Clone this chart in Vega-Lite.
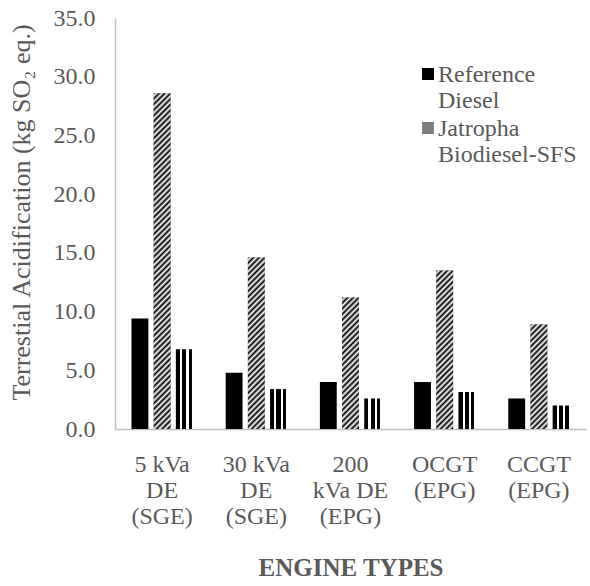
{
"$schema": "https://vega.github.io/schema/vega-lite/v6.json",
"width": 471,
"height": 411,
"autosize": {"type": "none"},
"padding": {"left": 115, "top": 18, "right": 4, "bottom": 157},
"background": "white",
"config": {"view": {"stroke": null}, "font": "Liberation Serif"},
"data": {"values": [
{"engine": "5 kVa DE (SGE)", "series": "Reference Diesel", "value": 9.4},
{"engine": "5 kVa DE (SGE)", "series": "Jatropha Biodiesel-SFS", "value": 28.6},
{"engine": "5 kVa DE (SGE)", "series": "Jatropha Biodiesel-MFS", "value": 6.8},
{"engine": "30 kVa DE (SGE)", "series": "Reference Diesel", "value": 4.8},
{"engine": "30 kVa DE (SGE)", "series": "Jatropha Biodiesel-SFS", "value": 14.6},
{"engine": "30 kVa DE (SGE)", "series": "Jatropha Biodiesel-MFS", "value": 3.4},
{"engine": "200 kVa DE (EPG)", "series": "Reference Diesel", "value": 4.0},
{"engine": "200 kVa DE (EPG)", "series": "Jatropha Biodiesel-SFS", "value": 11.2},
{"engine": "200 kVa DE (EPG)", "series": "Jatropha Biodiesel-MFS", "value": 2.6},
{"engine": "OCGT (EPG)", "series": "Reference Diesel", "value": 4.0},
{"engine": "OCGT (EPG)", "series": "Jatropha Biodiesel-SFS", "value": 13.5},
{"engine": "OCGT (EPG)", "series": "Jatropha Biodiesel-MFS", "value": 3.15},
{"engine": "CCGT (EPG)", "series": "Reference Diesel", "value": 2.6},
{"engine": "CCGT (EPG)", "series": "Jatropha Biodiesel-SFS", "value": 8.9},
{"engine": "CCGT (EPG)", "series": "Jatropha Biodiesel-MFS", "value": 2.0}
]},
"encoding": {
"x": {"field": "engine", "type": "nominal",
 "scale": {"domain": ["5 kVa DE (SGE)", "30 kVa DE (SGE)", "200 kVa DE (EPG)", "OCGT (EPG)", "CCGT (EPG)"], "paddingInner": 0.35, "paddingOuter": 0.175},
 "axis": {"title": "ENGINE TYPES", "titleFontSize": 25, "titleFontWeight": "bold", "titleColor": "#595959", "titleY": 146, "titleBaseline": "alphabetic",
  "labelAngle": 0, "labelFontSize": 24, "labelColor": "#595959", "labelBaseline": "top", "labelPadding": 23, "labelLineHeight": 26, "labelAlign": "center", "labelOverlap": false, "labelLimit": 0,
  "ticks": false, "domainColor": "#bfbfbf", "domainWidth": 1.5,
  "labelExpr": "datum.value == '5 kVa DE (SGE)' ? ['5 kVa','DE','(SGE)'] : datum.value == '30 kVa DE (SGE)' ? ['30 kVa','DE','(SGE)'] : datum.value == '200 kVa DE (EPG)' ? ['200','kVa DE','(EPG)'] : datum.value == 'OCGT (EPG)' ? ['OCGT','(EPG)'] : ['CCGT','(EPG)']"}},
"xOffset": {"field": "series", "type": "nominal", "scale": {"domain": ["Reference Diesel", "Jatropha Biodiesel-SFS", "Jatropha Biodiesel-MFS"], "paddingInner": 0.24, "paddingOuter": 0}},
"y": {"field": "value", "type": "quantitative", "scale": {"domain": [0, 35], "nice": false},
 "axis": {"values": [0, 5, 10, 15, 20, 25, 30, 35], "format": ".1f", "grid": false, "ticks": false, "labelFontSize": 24, "labelColor": "#595959", "labelPadding": 20,
  "domainColor": "#bfbfbf", "domainWidth": 1.5,
  "title": "Terrestial Acidification (kg SO₂ eq.)", "titleFontSize": 26, "titleFontWeight": "normal", "titleColor": "#595959", "titleAngle": -90, "titleX": -94, "titleY": 194, "titleAlign": "center", "titleBaseline": "middle"}}
},
"layer": [
{"mark": {"type": "bar"},
 "encoding": {"fill": {"field": "series", "type": "nominal",
  "scale": {"domain": ["Reference Diesel", "Jatropha Biodiesel-SFS", "Jatropha Biodiesel-MFS"], "range": ["#000000", "#808080", "#ffffff"]},
  "legend": {"orient": "none", "legendX": 301, "legendY": 44, "title": null, "values": ["Reference Diesel", "Jatropha Biodiesel-SFS"],
   "symbolType": "square", "symbolSize": 144, "symbolStrokeWidth": 0, "labelFontSize": 24, "labelColor": "#595959", "labelFont": "Liberation Serif",
   "labelExpr": "split(datum.label, ' ')", "labelBaseline": "alphabetic", "labelOffset": -2, "labelLimit": 300, "rowPadding": 3, "padding": 0,
   "encode": {
    "labels": {"update": {"lineHeight": {"value": 26}, "dy": {"value": 8}}},
    "symbols": {"update": {"fill": {"condition": {"test": "datum.value === 'Jatropha Biodiesel-SFS'", "value": {"gradient": "linear", "x1": 0, "y1": 0, "x2": 1, "y2": 1, "stops": [{"offset": 0, "color": "#000"}, {"offset": 0.117, "color": "#fff"}, {"offset": 0.233, "color": "#000"}, {"offset": 0.35, "color": "#fff"}, {"offset": 0.467, "color": "#000"}, {"offset": 0.583, "color": "#fff"}, {"offset": 0.7, "color": "#000"}, {"offset": 0.817, "color": "#fff"}, {"offset": 0.933, "color": "#000"}]}}, "value": "#000000"}}}
   }}}}},
{"transform": [{"filter": "datum.series === 'Jatropha Biodiesel-MFS'"}],
 "mark": {"type": "bar", "fill": {"gradient": "linear", "x1": 0, "y1": 0, "x2": 1, "y2": 0, "stops": [{"offset": 0, "color": "#000"}, {"offset": 0.24, "color": "#000"}, {"offset": 0.24, "color": "#fff"}, {"offset": 0.38, "color": "#fff"}, {"offset": 0.38, "color": "#000"}, {"offset": 0.62, "color": "#000"}, {"offset": 0.62, "color": "#fff"}, {"offset": 0.76, "color": "#fff"}, {"offset": 0.76, "color": "#000"}, {"offset": 0.94, "color": "#000"}, {"offset": 0.94, "color": "#fff"}, {"offset": 1, "color": "#fff"}]}}},
{"transform": [{"filter": "datum.series === 'Jatropha Biodiesel-SFS' && datum.engine === '5 kVa DE (SGE)'"}],
 "mark": {"type": "bar", "fill": {"gradient": "linear", "x1": 0, "y1": 0, "x2": 0.0527, "y2": 1.0477, "stops": [
{"offset":0,"color":"#000"},{"offset":0.008,"color":"#fff"},{"offset":0.016,"color":"#000"},{"offset":0.024,"color":"#fff"},{"offset":0.032,"color":"#000"},{"offset":0.04,"color":"#fff"},{"offset":0.048,"color":"#000"},{"offset":0.056,"color":"#fff"},{"offset":0.064,"color":"#000"},{"offset":0.072,"color":"#fff"},{"offset":0.08,"color":"#000"},{"offset":0.088,"color":"#fff"},{"offset":0.096,"color":"#000"},{"offset":0.104,"color":"#fff"},{"offset":0.112,"color":"#000"},{"offset":0.12,"color":"#fff"},{"offset":0.128,"color":"#000"},{"offset":0.136,"color":"#fff"},{"offset":0.144,"color":"#000"},{"offset":0.152,"color":"#fff"},{"offset":0.16,"color":"#000"},{"offset":0.168,"color":"#fff"},{"offset":0.176,"color":"#000"},{"offset":0.184,"color":"#fff"},{"offset":0.192,"color":"#000"},{"offset":0.2,"color":"#fff"},{"offset":0.208,"color":"#000"},{"offset":0.216,"color":"#fff"},{"offset":0.224,"color":"#000"},{"offset":0.232,"color":"#fff"},{"offset":0.24,"color":"#000"},{"offset":0.248,"color":"#fff"},{"offset":0.256,"color":"#000"},{"offset":0.264,"color":"#fff"},{"offset":0.272,"color":"#000"},{"offset":0.28,"color":"#fff"},{"offset":0.288,"color":"#000"},{"offset":0.296,"color":"#fff"},{"offset":0.304,"color":"#000"},{"offset":0.312,"color":"#fff"},{"offset":0.32,"color":"#000"},{"offset":0.328,"color":"#fff"},{"offset":0.336,"color":"#000"},{"offset":0.344,"color":"#fff"},{"offset":0.352,"color":"#000"},{"offset":0.36,"color":"#fff"},{"offset":0.368,"color":"#000"},{"offset":0.376,"color":"#fff"},{"offset":0.384,"color":"#000"},{"offset":0.392,"color":"#fff"},{"offset":0.4,"color":"#000"},{"offset":0.408,"color":"#fff"},{"offset":0.416,"color":"#000"},{"offset":0.424,"color":"#fff"},{"offset":0.432,"color":"#000"},{"offset":0.44,"color":"#fff"},{"offset":0.448,"color":"#000"},{"offset":0.456,"color":"#fff"},{"offset":0.464,"color":"#000"},{"offset":0.472,"color":"#fff"},{"offset":0.48,"color":"#000"},{"offset":0.488,"color":"#fff"},{"offset":0.496,"color":"#000"},{"offset":0.504,"color":"#fff"},{"offset":0.512,"color":"#000"},{"offset":0.52,"color":"#fff"},{"offset":0.528,"color":"#000"},{"offset":0.536,"color":"#fff"},{"offset":0.544,"color":"#000"},{"offset":0.552,"color":"#fff"},{"offset":0.56,"color":"#000"},{"offset":0.568,"color":"#fff"},{"offset":0.576,"color":"#000"},{"offset":0.584,"color":"#fff"},{"offset":0.592,"color":"#000"},{"offset":0.6,"color":"#fff"},{"offset":0.608,"color":"#000"},{"offset":0.616,"color":"#fff"},{"offset":0.624,"color":"#000"},{"offset":0.632,"color":"#fff"},{"offset":0.64,"color":"#000"},{"offset":0.648,"color":"#fff"},{"offset":0.656,"color":"#000"},{"offset":0.664,"color":"#fff"},{"offset":0.672,"color":"#000"},{"offset":0.68,"color":"#fff"},{"offset":0.688,"color":"#000"},{"offset":0.696,"color":"#fff"},{"offset":0.704,"color":"#000"},{"offset":0.712,"color":"#fff"},{"offset":0.72,"color":"#000"},{"offset":0.728,"color":"#fff"},{"offset":0.736,"color":"#000"},{"offset":0.744,"color":"#fff"},{"offset":0.752,"color":"#000"},{"offset":0.76,"color":"#fff"},{"offset":0.768,"color":"#000"},{"offset":0.776,"color":"#fff"},{"offset":0.784,"color":"#000"},{"offset":0.792,"color":"#fff"},{"offset":0.8,"color":"#000"},{"offset":0.808,"color":"#fff"},{"offset":0.816,"color":"#000"},{"offset":0.824,"color":"#fff"},{"offset":0.832,"color":"#000"},{"offset":0.84,"color":"#fff"},{"offset":0.848,"color":"#000"},{"offset":0.856,"color":"#fff"},{"offset":0.864,"color":"#000"},{"offset":0.872,"color":"#fff"},{"offset":0.88,"color":"#000"},{"offset":0.888,"color":"#fff"},{"offset":0.896,"color":"#000"},{"offset":0.904,"color":"#fff"},{"offset":0.912,"color":"#000"},{"offset":0.92,"color":"#fff"},{"offset":0.928,"color":"#000"},{"offset":0.936,"color":"#fff"},{"offset":0.944,"color":"#000"},{"offset":0.952,"color":"#fff"},{"offset":0.96,"color":"#000"},{"offset":0.968,"color":"#fff"},{"offset":0.976,"color":"#000"},{"offset":0.984,"color":"#fff"},{"offset":0.992,"color":"#000"},{"offset":1,"color":"#fff"}]}}},
{"transform": [{"filter": "datum.series === 'Jatropha Biodiesel-SFS' && datum.engine === '30 kVa DE (SGE)'"}],
 "mark": {"type": "bar", "fill": {"gradient": "linear", "x1": 0, "y1": 0, "x2": 0.1073, "y2": 1.088, "stops": [
{"offset":0,"color":"#000"},{"offset":0.015,"color":"#fff"},{"offset":0.03,"color":"#000"},{"offset":0.045,"color":"#fff"},{"offset":0.06,"color":"#000"},{"offset":0.075,"color":"#fff"},{"offset":0.09,"color":"#000"},{"offset":0.105,"color":"#fff"},{"offset":0.12,"color":"#000"},{"offset":0.135,"color":"#fff"},{"offset":0.15,"color":"#000"},{"offset":0.165,"color":"#fff"},{"offset":0.18,"color":"#000"},{"offset":0.195,"color":"#fff"},{"offset":0.21,"color":"#000"},{"offset":0.225,"color":"#fff"},{"offset":0.24,"color":"#000"},{"offset":0.255,"color":"#fff"},{"offset":0.27,"color":"#000"},{"offset":0.285,"color":"#fff"},{"offset":0.3,"color":"#000"},{"offset":0.315,"color":"#fff"},{"offset":0.33,"color":"#000"},{"offset":0.345,"color":"#fff"},{"offset":0.36,"color":"#000"},{"offset":0.375,"color":"#fff"},{"offset":0.39,"color":"#000"},{"offset":0.405,"color":"#fff"},{"offset":0.42,"color":"#000"},{"offset":0.435,"color":"#fff"},{"offset":0.45,"color":"#000"},{"offset":0.465,"color":"#fff"},{"offset":0.48,"color":"#000"},{"offset":0.495,"color":"#fff"},{"offset":0.51,"color":"#000"},{"offset":0.525,"color":"#fff"},{"offset":0.54,"color":"#000"},{"offset":0.555,"color":"#fff"},{"offset":0.57,"color":"#000"},{"offset":0.585,"color":"#fff"},{"offset":0.6,"color":"#000"},{"offset":0.615,"color":"#fff"},{"offset":0.63,"color":"#000"},{"offset":0.645,"color":"#fff"},{"offset":0.66,"color":"#000"},{"offset":0.675,"color":"#fff"},{"offset":0.69,"color":"#000"},{"offset":0.705,"color":"#fff"},{"offset":0.72,"color":"#000"},{"offset":0.735,"color":"#fff"},{"offset":0.75,"color":"#000"},{"offset":0.765,"color":"#fff"},{"offset":0.78,"color":"#000"},{"offset":0.795,"color":"#fff"},{"offset":0.81,"color":"#000"},{"offset":0.825,"color":"#fff"},{"offset":0.84,"color":"#000"},{"offset":0.855,"color":"#fff"},{"offset":0.87,"color":"#000"},{"offset":0.885,"color":"#fff"},{"offset":0.9,"color":"#000"},{"offset":0.915,"color":"#fff"},{"offset":0.93,"color":"#000"},{"offset":0.945,"color":"#fff"},{"offset":0.96,"color":"#000"},{"offset":0.975,"color":"#fff"},{"offset":0.99,"color":"#000"}]}}},
{"transform": [{"filter": "datum.series === 'Jatropha Biodiesel-SFS' && datum.engine === '200 kVa DE (EPG)'"}],
 "mark": {"type": "bar", "fill": {"gradient": "linear", "x1": 0, "y1": 0, "x2": 0.1427, "y2": 1.1102, "stops": [
{"offset":0,"color":"#000"},{"offset":0.019,"color":"#fff"},{"offset":0.038,"color":"#000"},{"offset":0.057,"color":"#fff"},{"offset":0.076,"color":"#000"},{"offset":0.095,"color":"#fff"},{"offset":0.114,"color":"#000"},{"offset":0.133,"color":"#fff"},{"offset":0.152,"color":"#000"},{"offset":0.171,"color":"#fff"},{"offset":0.19,"color":"#000"},{"offset":0.209,"color":"#fff"},{"offset":0.228,"color":"#000"},{"offset":0.247,"color":"#fff"},{"offset":0.266,"color":"#000"},{"offset":0.285,"color":"#fff"},{"offset":0.304,"color":"#000"},{"offset":0.323,"color":"#fff"},{"offset":0.342,"color":"#000"},{"offset":0.361,"color":"#fff"},{"offset":0.38,"color":"#000"},{"offset":0.399,"color":"#fff"},{"offset":0.418,"color":"#000"},{"offset":0.437,"color":"#fff"},{"offset":0.456,"color":"#000"},{"offset":0.475,"color":"#fff"},{"offset":0.494,"color":"#000"},{"offset":0.513,"color":"#fff"},{"offset":0.532,"color":"#000"},{"offset":0.551,"color":"#fff"},{"offset":0.57,"color":"#000"},{"offset":0.589,"color":"#fff"},{"offset":0.608,"color":"#000"},{"offset":0.627,"color":"#fff"},{"offset":0.646,"color":"#000"},{"offset":0.665,"color":"#fff"},{"offset":0.684,"color":"#000"},{"offset":0.703,"color":"#fff"},{"offset":0.722,"color":"#000"},{"offset":0.741,"color":"#fff"},{"offset":0.76,"color":"#000"},{"offset":0.779,"color":"#fff"},{"offset":0.798,"color":"#000"},{"offset":0.817,"color":"#fff"},{"offset":0.836,"color":"#000"},{"offset":0.855,"color":"#fff"},{"offset":0.874,"color":"#000"},{"offset":0.893,"color":"#fff"},{"offset":0.912,"color":"#000"},{"offset":0.931,"color":"#fff"},{"offset":0.95,"color":"#000"},{"offset":0.969,"color":"#fff"},{"offset":0.988,"color":"#000"}]}}},
{"transform": [{"filter": "datum.series === 'Jatropha Biodiesel-SFS' && datum.engine === 'OCGT (EPG)'"}],
 "mark": {"type": "bar", "fill": {"gradient": "linear", "x1": 0, "y1": 0, "x2": 0.1167, "y2": 1.0942, "stops": [
{"offset":0,"color":"#000"},{"offset":0.016,"color":"#fff"},{"offset":0.032,"color":"#000"},{"offset":0.048,"color":"#fff"},{"offset":0.064,"color":"#000"},{"offset":0.08,"color":"#fff"},{"offset":0.096,"color":"#000"},{"offset":0.112,"color":"#fff"},{"offset":0.128,"color":"#000"},{"offset":0.144,"color":"#fff"},{"offset":0.16,"color":"#000"},{"offset":0.176,"color":"#fff"},{"offset":0.192,"color":"#000"},{"offset":0.208,"color":"#fff"},{"offset":0.224,"color":"#000"},{"offset":0.24,"color":"#fff"},{"offset":0.256,"color":"#000"},{"offset":0.272,"color":"#fff"},{"offset":0.288,"color":"#000"},{"offset":0.304,"color":"#fff"},{"offset":0.32,"color":"#000"},{"offset":0.336,"color":"#fff"},{"offset":0.352,"color":"#000"},{"offset":0.368,"color":"#fff"},{"offset":0.384,"color":"#000"},{"offset":0.4,"color":"#fff"},{"offset":0.416,"color":"#000"},{"offset":0.432,"color":"#fff"},{"offset":0.448,"color":"#000"},{"offset":0.464,"color":"#fff"},{"offset":0.48,"color":"#000"},{"offset":0.496,"color":"#fff"},{"offset":0.512,"color":"#000"},{"offset":0.528,"color":"#fff"},{"offset":0.544,"color":"#000"},{"offset":0.56,"color":"#fff"},{"offset":0.576,"color":"#000"},{"offset":0.592,"color":"#fff"},{"offset":0.608,"color":"#000"},{"offset":0.624,"color":"#fff"},{"offset":0.64,"color":"#000"},{"offset":0.656,"color":"#fff"},{"offset":0.672,"color":"#000"},{"offset":0.688,"color":"#fff"},{"offset":0.704,"color":"#000"},{"offset":0.72,"color":"#fff"},{"offset":0.736,"color":"#000"},{"offset":0.752,"color":"#fff"},{"offset":0.768,"color":"#000"},{"offset":0.784,"color":"#fff"},{"offset":0.8,"color":"#000"},{"offset":0.816,"color":"#fff"},{"offset":0.832,"color":"#000"},{"offset":0.848,"color":"#fff"},{"offset":0.864,"color":"#000"},{"offset":0.88,"color":"#fff"},{"offset":0.896,"color":"#000"},{"offset":0.912,"color":"#fff"},{"offset":0.928,"color":"#000"},{"offset":0.944,"color":"#fff"},{"offset":0.96,"color":"#000"},{"offset":0.976,"color":"#fff"},{"offset":0.992,"color":"#000"}]}}},
{"transform": [{"filter": "datum.series === 'Jatropha Biodiesel-SFS' && datum.engine === 'CCGT (EPG)'"}],
 "mark": {"type": "bar", "fill": {"gradient": "linear", "x1": 0, "y1": 0, "x2": 0.1831, "y2": 1.1321, "stops": [
{"offset":0,"color":"#000"},{"offset":0.023,"color":"#fff"},{"offset":0.046,"color":"#000"},{"offset":0.069,"color":"#fff"},{"offset":0.092,"color":"#000"},{"offset":0.115,"color":"#fff"},{"offset":0.138,"color":"#000"},{"offset":0.161,"color":"#fff"},{"offset":0.184,"color":"#000"},{"offset":0.207,"color":"#fff"},{"offset":0.23,"color":"#000"},{"offset":0.253,"color":"#fff"},{"offset":0.276,"color":"#000"},{"offset":0.299,"color":"#fff"},{"offset":0.322,"color":"#000"},{"offset":0.345,"color":"#fff"},{"offset":0.368,"color":"#000"},{"offset":0.391,"color":"#fff"},{"offset":0.414,"color":"#000"},{"offset":0.437,"color":"#fff"},{"offset":0.46,"color":"#000"},{"offset":0.483,"color":"#fff"},{"offset":0.506,"color":"#000"},{"offset":0.529,"color":"#fff"},{"offset":0.552,"color":"#000"},{"offset":0.575,"color":"#fff"},{"offset":0.598,"color":"#000"},{"offset":0.621,"color":"#fff"},{"offset":0.644,"color":"#000"},{"offset":0.667,"color":"#fff"},{"offset":0.69,"color":"#000"},{"offset":0.713,"color":"#fff"},{"offset":0.736,"color":"#000"},{"offset":0.759,"color":"#fff"},{"offset":0.782,"color":"#000"},{"offset":0.805,"color":"#fff"},{"offset":0.828,"color":"#000"},{"offset":0.851,"color":"#fff"},{"offset":0.874,"color":"#000"},{"offset":0.897,"color":"#fff"},{"offset":0.92,"color":"#000"},{"offset":0.943,"color":"#fff"},{"offset":0.966,"color":"#000"},{"offset":0.989,"color":"#fff"}]}}}
]
}
